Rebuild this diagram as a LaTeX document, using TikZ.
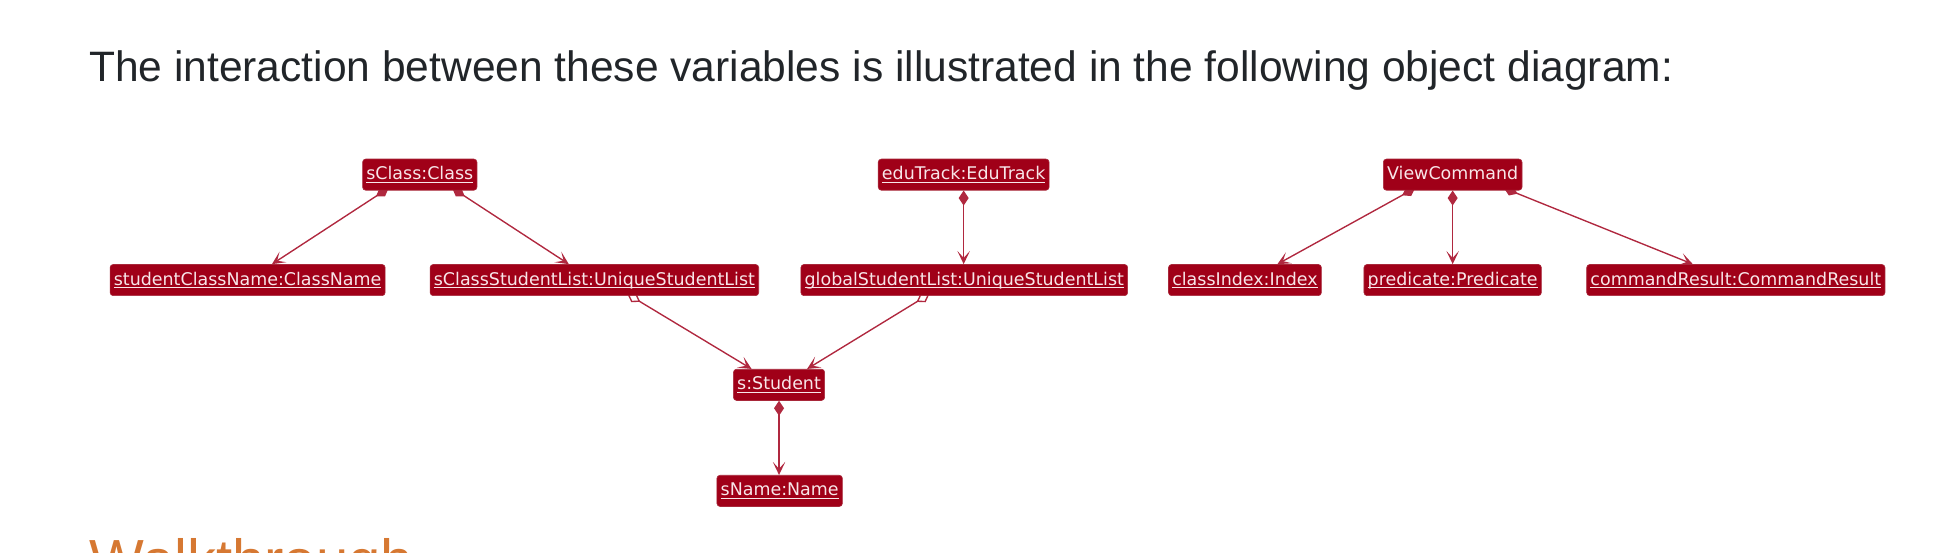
\documentclass[tikz,border=0pt]{standalone}
\usepackage{fontspec}
\setmainfont{Liberation Sans}
\newfontfamily\dejavu{DejaVu Sans}
\usetikzlibrary{arrows.meta,calc}
\definecolor{headgray}{HTML}{212529}
\definecolor{walkorange}{HTML}{D67832}
\definecolor{boxred}{HTML}{A00018}
\definecolor{boxedge}{HTML}{A8283A}
\definecolor{linered}{HTML}{B0283F}
\definecolor{boxtext}{HTML}{F8E6E9}
\newcommand\ulobj[1]{\setbox0=\hbox{#1}\rlap{\rule[-2.4pt]{\wd0}{0.9pt}}\box0}
\pgfdeclarelayer{bg}
\pgfsetlayers{bg,main}
\begin{document}
\begin{tikzpicture}[x=1pt,y=-1pt,
  obj/.style={fill=boxred, draw=boxedge, line width=0.5pt, rounded corners=2.5pt,
    text=boxtext, font=\dejavu\fontsize{14}{16}\selectfont,
    inner xsep=3pt, inner ysep=6.5pt, text height=10pt, text depth=2pt},
  rel/.style={draw=linered, line width=1.1pt},
  comp/.style={rel, {Diamond[length=12pt,width=8pt]}-{Stealth[length=10.5pt,width=10pt,inset=5.5pt]}},
  aggr/.style={rel, {Diamond[open,length=12pt,width=8pt,fill=white]}-{Stealth[length=10.5pt,width=10pt,inset=5.5pt]}}]
\useasboundingbox (0,0) rectangle (1568,442.5);
\clip (0,0) rectangle (1568,442.5);

\node[anchor=base west, inner sep=0pt, text=headgray, font=\fontsize{34.1}{40}\selectfont] (head) at (71.2,65.5)
  {The interaction between these variables is illustrated in the following object diagram:};
\node[anchor=base west, inner sep=0pt, text=walkorange, font=\fontsize{46.5}{52}\selectfont] (walk) at (71.5,465.7)
  {Walkthrough};

% top row
\node[obj] (sclass) at (336.5,140) {\ulobj{sClass:Class}};
\node[obj] (edutrack) at (772.5,140) {\ulobj{eduTrack:EduTrack}};
\node[obj] (viewcmd) at (1164.5,140) {ViewCommand};
% middle row
\node[obj] (scname) at (198.5,224.5) {\ulobj{studentClassName:ClassName}};
\node[obj] (sclist) at (476.5,224.5) {\ulobj{sClassStudentList:UniqueStudentList}};
\node[obj] (glist) at (773,224.5) {\ulobj{globalStudentList:UniqueStudentList}};
\node[obj] (cindex) at (998,224.5) {\ulobj{classIndex:Index}};
\node[obj] (pred) at (1164.5,224.5) {\ulobj{predicate:Predicate}};
\node[obj] (cres) at (1391.5,224.5) {\ulobj{commandResult:CommandResult}};
% lower
\node[obj] (stu) at (624.5,308.5) {\ulobj{s:Student}};
\node[obj] (sname) at (625,393.5) {\ulobj{sName:Name}};

\begin{pgfonlayer}{bg}
\draw[comp] ($(sclass.south)+(-25,-2)$) -- ($(scname.north)+(19.5,0)$);
\draw[comp] ($(sclass.south)+(26,-2)$) -- ($(sclist.north)+(-20.5,0)$);
\draw[comp] (edutrack.south) -- (edutrack.south |- glist.north);
\draw[comp] ($(viewcmd.south)+(-30,-2)$) -- ($(cindex.north)+(26,0)$);
\draw[comp] (viewcmd.south) -- (pred.north);
\draw[comp] ($(viewcmd.south)+(41,-2)$) -- ($(cres.north)+(-34.5,0)$);
\draw[aggr] ($(sclist.south)+(26.5,-1.5)$) -- ($(stu.north)+(-22,0)$);
\draw[aggr] ($(glist.south)+(-28,-1.5)$) -- ($(stu.north)+(22.5,0)$);
\draw[comp] (stu.south) -- (stu.south |- sname.north);
\end{pgfonlayer}
\end{tikzpicture}
\end{document}
